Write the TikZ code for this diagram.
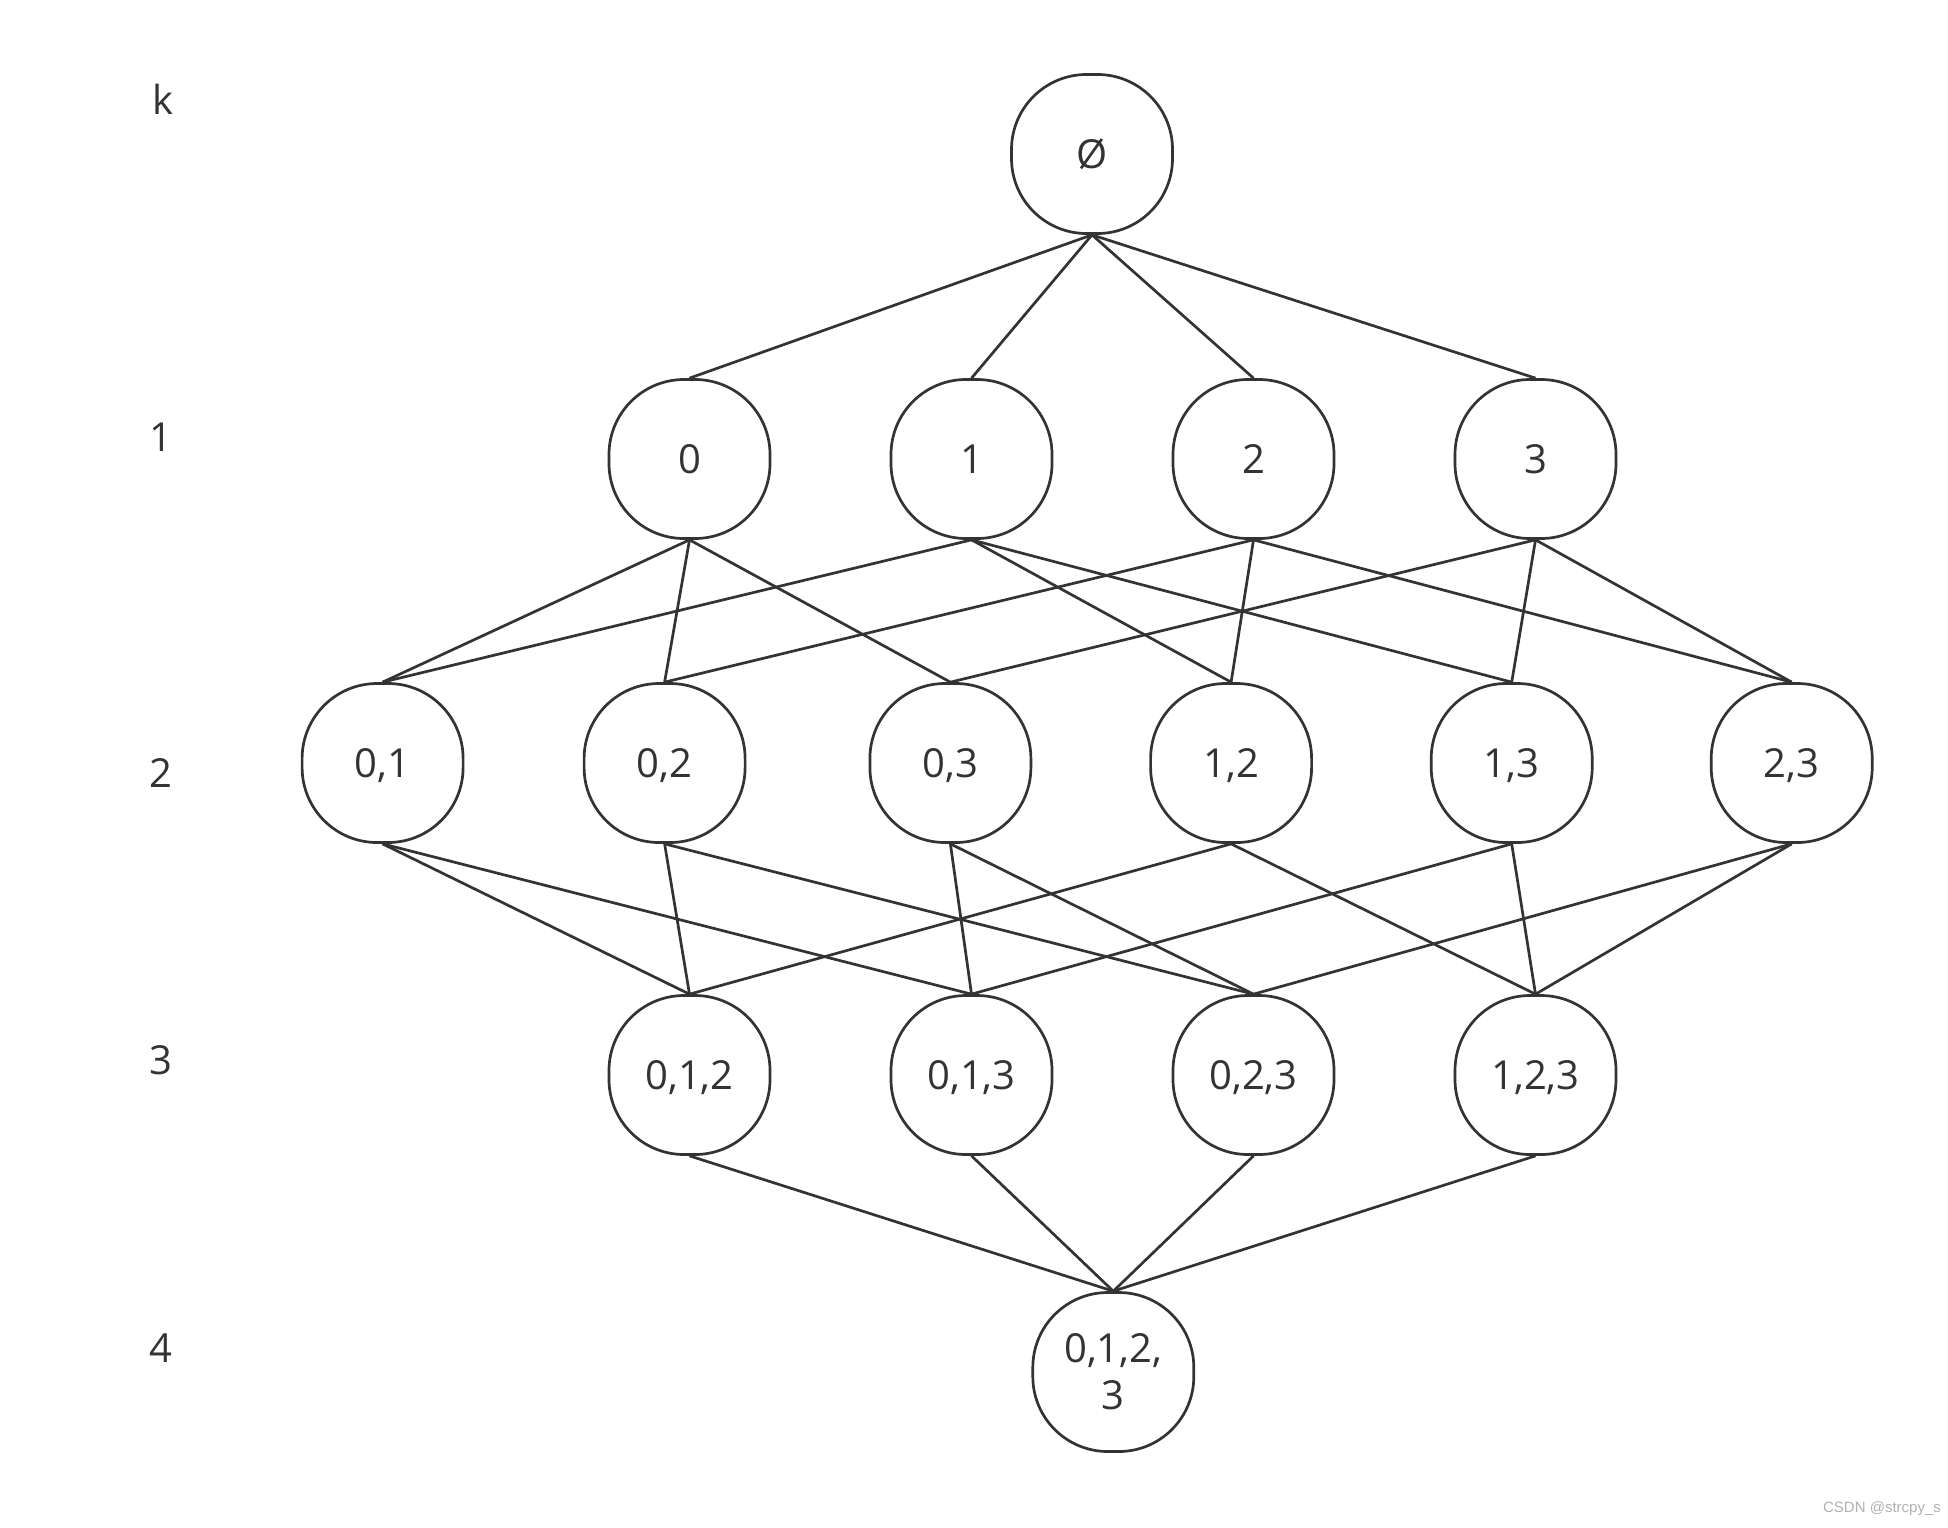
\documentclass[tikz,border=0pt]{standalone}
\usepackage{fontspec}
\setmainfont{Open Sans}
\setsansfont{Liberation Sans}
\definecolor{ink}{HTML}{333333}

\begin{document}
\begin{tikzpicture}[x=0.5pt,y=-0.5pt,
		set/.style={draw=ink,line width=1.35pt,rounded corners=37.5pt,minimum width=80.5pt,minimum height=79.5pt,inner sep=0pt,text=ink,align=center,text height=14.3pt,text depth=0pt,font=\fontsize{20}{23.5}\selectfont},
		lvl/.style={text=ink,font=\fontsize{20}{24}\selectfont},
		link/.style={draw=ink,line width=1.35pt}]
		\useasboundingbox[fill=white] (0,0) rectangle (1948,1527);
		% level labels
		\node[lvl] (k) at (163,99) {k};
		\node[lvl] (l1) at (161,437) {1};
		\node[lvl] (l2) at (161,773) {2};
		\node[lvl] (l3) at (161,1060) {3};
		\node[lvl] (l4) at (161,1348) {4};
		% sets
		\node[set] (e) at (1092,154) {Ø};
		\node[set] (n0) at (689.5,459) {0};
		\node[set] (n1) at (971.5,459) {1};
		\node[set] (n2) at (1253.5,459) {2};
		\node[set] (n3) at (1535.5,459) {3};
		\node[set] (n01) at (382.6,763) {0,1};
		\node[set] (n02) at (664.6,763) {0,2};
		\node[set] (n03) at (950.4,763) {0,3};
		\node[set] (n12) at (1231.1,763) {1,2};
		\node[set] (n13) at (1511.7,763) {1,3};
		\node[set] (n23) at (1791.7,763) {2,3};
		\node[set] (n012) at (689.5,1075) {0,1,2};
		\node[set] (n013) at (971.5,1075) {0,1,3};
		\node[set] (n023) at (1253.5,1075) {0,2,3};
		\node[set] (n123) at (1535.5,1075) {1,2,3};
		\node[set,text height=,text depth=] (n0123) at (1113.3,1372) {0,1,2,\\3};
		% links
		\foreach \a/\b in {e/n0,e/n1,e/n2,e/n3,
			n0/n01,n0/n02,n0/n03,n1/n01,n1/n12,n1/n13,n2/n02,n2/n12,n2/n23,n3/n03,n3/n13,n3/n23,
			n01/n012,n01/n013,n02/n012,n02/n023,n03/n013,n03/n023,n12/n012,n12/n123,n13/n013,n13/n123,n23/n023,n23/n123,
			n012/n0123,n013/n0123,n023/n0123,n123/n0123}
			\draw[link] (\a.south) -- (\b.north);
		\node[text=gray!60,font=\sffamily\fontsize{7.5}{9}\selectfont] (mark) at (1882,1509) {CSDN @strcpy\_s};
	\end{tikzpicture}
\end{document}
